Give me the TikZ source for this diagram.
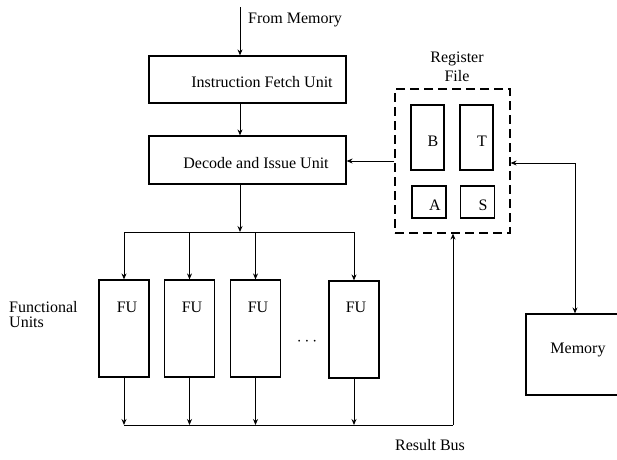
\documentclass[tikz,border=0pt]{standalone}
\usepackage{fontspec}
\setmainfont{Liberation Serif}
\usetikzlibrary{arrows.meta}
\begin{document}
\begin{tikzpicture}[x=1pt,y=-1pt,
  box/.style={draw, line width=1.2pt, inner sep=0pt},
  lbl/.style={font=\fontsize{16}{18}\selectfont, inner sep=0pt},
  conn/.style={line width=0.9pt},
  arr/.style={conn,-{Stealth[length=6pt,width=5pt]}},
  darr/.style={conn,{Stealth[length=6pt,width=5pt]}-{Stealth[length=6pt,width=5pt]}}]
\useasboundingbox (0,0) rectangle (617,459);
\clip (0,0) rectangle (617,459);
% boxes
\node[box, minimum width=197pt, minimum height=47pt] (ifu) at (247.5,79.5) {};
\node[box, minimum width=197pt, minimum height=48pt] (diu) at (247.5,160) {};
\node[box, dash pattern=on 9pt off 5pt, minimum width=115pt, minimum height=144pt] (rf) at (452.5,161) {};
\node[box, minimum width=33pt, minimum height=65pt] (bb) at (427.5,137.5) {};
\node[box, minimum width=33pt, minimum height=65pt] (tb) at (476.5,137.5) {};
\node[box, minimum width=34pt, minimum height=32pt] (ab) at (429,202) {};
\node[box, minimum width=34pt, minimum height=32pt] (sb) at (477.5,202) {};
\node[box, minimum width=98pt, minimum height=81pt] (mem) at (575,354.5) {};
\node[box, minimum width=50pt, minimum height=97pt] (fu1) at (124,328.5) {};
\node[box, minimum width=50pt, minimum height=97pt] (fu2) at (189.5,328.5) {};
\node[box, minimum width=50pt, minimum height=97pt] (fu3) at (255.5,328.5) {};
\node[box, minimum width=50pt, minimum height=97pt] (fu4) at (354,329.5) {};
% labels
\node[lbl, anchor=west] (lfm) at (248,20) {From Memory};
\node[lbl] (lifu) at (262,82) {Instruction Fetch Unit};
\node[lbl] (ldiu) at (256,163) {Decode and Issue Unit};
\node[lbl, align=center, font=\fontsize{16}{19}\selectfont] (lrf) at (457,67) {Register\\File};
\node[lbl] (lb) at (433,141) {B};
\node[lbl] (lt) at (482,141) {T};
\node[lbl] (la) at (435,205) {A};
\node[lbl] (ls) at (483,205) {S};
\node[lbl] (lmem) at (578,350) {Memory};
\node[lbl] (lfu1) at (127,307) {FU};
\node[lbl] (lfu2) at (192,307) {FU};
\node[lbl] (lfu3) at (258,307) {FU};
\node[lbl] (lfu4) at (356,307) {FU};
\node[lbl] (ldots) at (307,342) {$\cdots$};
\node[lbl, anchor=west, align=left, font=\fontsize{16}{15}\selectfont] (lfun) at (9,314.5) {Functional\\Units};
\node[lbl] (lbus) at (430,445) {Result Bus};
% connectors
\coordinate (top) at (240,7);
\coordinate (split) at (240,232);
\coordinate (bus) at (453,425);
\coordinate (mx) at (575,163);
\draw[arr] (top) -- (top |- ifu.north);
\draw[arr] (top |- ifu.south) -- (top |- diu.north);
\draw[arr] (top |- diu.south) -- (split);
\draw[conn] (fu1.north |- split) -- (fu4.north |- split);
\foreach \f in {fu1,fu2,fu3,fu4} {
  \draw[arr] (\f.north |- split) -- (\f.north);
  \draw[arr] (\f.south) -- (\f.south |- bus);
}
\draw[conn] (fu1.south |- bus) -- (bus);
\draw[arr] (bus) -- (bus |- rf.south);
\draw[arr] (rf.west) -- (rf.west -| diu.east);
\draw[darr] (mx -| rf.east) -- (mx) -- (mx |- mem.north);
\end{tikzpicture}
\end{document}
